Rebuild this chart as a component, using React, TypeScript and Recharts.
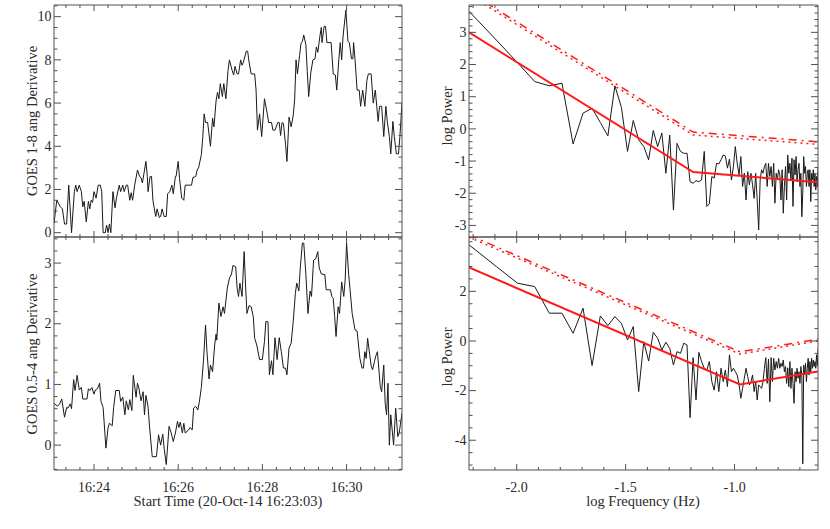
import { LineChart, Line, XAxis, YAxis, Label } from "recharts"

const FONT = '"Liberation Serif", "Times New Roman", serif'
const INK = "#2a2a2a"
const FRAME = "#505050"
const RED = "#ff1a1a"

// GOES 1-8 A derivative (seconds after 16:23:03)
const hiTime = [
  0, 4, 9, 12, 15, 18, 21, 25, 29, 31, 33, 36, 39, 41, 43, 46, 49, 51, 53, 55,
  57, 60, 63, 66, 68, 70, 73, 75, 77, 79, 81, 84, 87, 89, 93, 95, 98, 100, 103, 105,
  108, 110, 112, 115, 119, 122, 124, 126, 131, 133, 134, 137, 139, 141, 143, 145, 147, 150, 152, 154,
  157, 160, 162, 165, 168, 170, 173, 174, 177, 179, 182, 185, 187, 192, 196, 198, 202, 204, 206, 210,
  212, 214, 216, 219, 223, 226, 228, 231, 233, 235, 237, 240, 242, 245, 248, 250,
  254, 256, 258, 261, 263, 266, 268, 270, 274, 276, 278, 281, 286, 288, 290, 293, 296, 300, 304, 306,
  310, 312, 315, 319, 321, 323, 325, 327, 330, 332, 335, 338, 341, 343, 345, 347, 350, 352, 354, 356,
  359, 361, 363, 366, 369, 372, 374, 376, 379, 381, 382, 385, 387, 389, 395, 398, 401, 403, 406, 408,
  410, 412, 416, 419, 421, 424, 426, 427, 429, 432, 435, 437, 440, 443, 446, 448, 452, 455, 458, 460,
  462, 464, 467, 470, 473, 475, 478, 480, 483, 485, 488, 491, 493, 496,
]
const hiValue = [
  0.43, 1.51, 1.2, 1.1, 0.4, 0.4, 2.2, 0.0, 1.9, 2.2, 1.9, 2.2, 1.9, 1.2, 1.45, 0.5, 1.45, 1.1, 1.5, 1.4,
  1.9, 1.6, 2.2, 2.2, 1.9, 0.0, 0.0, 0.35, 0.0, 0.4, 0.0, 1.9, 1.15, 1.6, 2.2, 1.9, 2.2, 1.9, 2.2, 2.2,
  1.5, 1.85, 1.5, 2.2, 2.9, 2.6, 2.55, 2.3, 3.3, 2.6, 1.9, 2.6, 2.6, 1.5, 1.1, 0.75, 1.1, 0.7, 0.75, 1.1,
  0.75, 0.75, 1.8, 1.9, 2.2, 1.8, 2.6, 2.6, 3.3, 2.5, 1.6, 1.5, 2.2, 2.2, 2.2, 2.55, 2.6, 2.9, 3.0, 3.6,
  4.4, 5.5, 5.1, 5.1, 4.0, 5.3, 4.9, 6.1, 6.5, 6.2, 6.9, 6.3, 6.9, 6.2, 7.5, 8.0,
  7.5, 7.3, 7.7, 7.35, 7.35, 8.0, 7.75, 7.9, 8.4, 8.4, 7.9, 7.35, 7.35, 6.6, 4.75, 5.5, 4.45, 6.2, 5.5, 5.1,
  5.1, 4.75, 4.75, 5.1, 5.1, 4.5, 5.1, 5.05, 4.1, 3.3, 5.35, 4.9, 5.45, 6.15, 8.0, 7.35, 8.2, 8.75, 8.85, 9.15,
  8.7, 7.45, 6.3, 7.4, 8.0, 8.05, 8.6, 8.35, 9.1, 9.5, 8.8, 9.55, 9.55, 8.8, 8.8, 7.35, 7.3, 6.6, 8.05, 8.8,
  8.0, 9.1, 10.3, 8.85, 8.8, 8.05, 8.05, 8.8, 8.05, 6.6, 6.6, 5.85, 6.6, 5.85, 7.05, 7.35, 7.35, 6.0, 6.6, 5.85,
  5.15, 5.85, 5.85, 4.45, 5.85, 5.15, 4.45, 3.65, 5.15, 4.45, 3.65, 3.65, 4.45, 6.0,
]

// GOES 0.5-4 A derivative
const loTime = [
  0, 5, 8, 11, 15, 18, 20, 23, 25, 28, 30, 33, 36, 39, 41, 47, 49, 51, 54, 57,
  59, 62, 65, 67, 70, 74, 77, 79, 83, 85, 88, 93, 95, 98, 101, 103, 106, 108, 111, 113,
  117, 119, 121, 124, 127, 129, 131, 134, 136, 140, 146, 149, 152, 155, 157, 160, 164, 167, 170, 173,
  176, 178, 180, 183, 185, 187, 191, 194, 197, 199, 202, 205, 207, 210, 213, 216, 218, 221, 223, 226,
  229, 231, 232, 235, 238, 241, 243, 247, 250,
  253, 255, 259, 261, 263, 265, 268, 271, 273, 275, 278, 281, 284, 286, 289, 293, 297, 300, 302, 305,
  307, 310, 312, 315, 318, 321, 324, 327, 330, 332, 335, 338, 341, 344, 346, 349, 351, 354, 356, 359,
  362, 365, 367, 370, 373, 376, 378, 381, 386, 388, 394, 396, 398, 400, 402, 405, 407, 410, 413, 415,
  417, 420, 422, 425, 429, 432, 434, 436, 439, 441, 443, 445, 447, 450, 452, 454, 457, 459, 461, 465,
  467, 470, 472, 474, 476, 478, 480, 484, 487, 490, 492, 496,
]
const loValue = [
  0.69, 0.64, 0.68, 0.76, 0.46, 0.62, 0.61, 0.68, 0.6, 1.08, 0.9, 1.15, 0.91, 0.95, 0.76, 0.76, 0.93, 0.9, 0.95, 0.84,
  0.91, 0.93, 1.02, 0.72, 0.62, -0.05, 0.28, 0.36, 0.32, 0.62, 0.9, 0.9, 0.72, 0.79, 0.5, 0.73, 0.58, 0.75, 0.57, 1.15,
  0.79, 1.02, 0.94, 0.73, 0.88, 0.5, 0.82, 0.64, 0.33, -0.19, -0.19, 0.17, 0.0, 0.18, -0.05, -0.32, 0.31, 0.2, 0.06, 0.2,
  0.39, 0.29, 0.38, 0.2, 0.36, 0.2, 0.24, 0.29, 0.25, 0.61, 0.64, 0.58, 0.7, 0.95, 1.38, 1.98, 1.54, 1.09, 1.32, 1.21,
  1.65, 1.83, 1.73, 2.34, 2.12, 2.28, 2.17, 2.59, 2.75,
  2.82, 2.96, 2.94, 2.59, 2.45, 2.67, 2.45, 3.19, 2.64, 2.17, 2.3, 2.28, 2.12, 1.76, 1.65, 1.41, 1.41, 1.71, 2.04, 2.03,
  1.16, 1.39, 1.16, 1.77, 1.41, 1.77, 1.54, 1.27, 1.27, 1.16, 1.6, 1.68, 2.04, 2.5, 2.67, 2.54, 2.92, 3.33, 3.33, 2.81,
  2.17, 2.54, 2.45, 3.05, 3.07, 3.19, 2.92, 2.82, 2.81, 2.56, 2.56, 2.45, 2.42, 2.12, 1.79, 2.28, 2.17, 2.69, 2.45, 2.72,
  3.33, 2.81, 2.56, 2.17, 1.9, 1.88, 1.65, 1.43, 1.27, 1.27, 1.54, 1.43, 1.76, 1.49, 1.31, 1.24, 1.39, 1.48, 1.54, 0.97,
  0.88, 1.32, 0.69, 0.5, 1.02, 0.0, 0.5, 0.0, 0.61, 0.14, 0.2, 0.53,
]

// FFT bins k / 496 s, k = 3 .. 120
const firstBin = 3
const segmentSeconds = 496
const powerHi = [
  3.65, 2.76, 2.06, 1.47, 1.34, 1.42, -0.47, 0.49, 0.64, 0.2, -0.22, 1.34, 0.67, -0.7, 0.26, -0.34, -0.55, -0.96, -0.05, -0.55,
  -0.13, -1.38, -0.19, -2.52, -0.45, -0.7, -0.76, -0.76, -1.64, -1.69, -1.61, -1.64, -1.59, -0.7, -2.41, -2.33, -1.48, -1.53, -1.07, -1.09,
  -0.96, -0.81, -0.84, -1.22, -0.94, -1.59, -1.17, -0.55, -1.07, -1.43, -0.86, -1.79, -1.38, -2.21, -1.33, -1.74, -1.38, -1.74, -2.16, -1.38,
  -2.21, -3.14, -1.59, -1.27, -1.38, -1.17, -1.07, -1.79, -1.07, -1.48, -1.17, -1.79, -1.07, -2.31, -1.38, -1.59, -1.27, -1.43, -2.21, -1.27,
  -2.62, -1.79, -1.17, -2.21, -0.81, -1.38, -1.07, -1.59, -0.91, -2.41, -0.96, -1.43, -0.86, -1.64, -1.27, -1.07, -1.79, -1.38, -2.73, -1.99,
  -0.86, -1.38, -1.17, -1.79, -1.38, -1.27, -1.79, -1.27, -2.26, -1.38, -1.59, -1.27, -1.79, -1.38, -1.9, -1.48, -1.79, -1.17,
]
const powerLo = [
  3.87, 3.0, 2.33, 2.19, 1.12, 1.12, 0.31, 1.32, -0.99, 1.01, 0.62, 0.98, 0.71, 0.04, 0.58, -2.04, -0.03, -0.81, 0.35, 0.11,
  -0.36, -0.05, -0.3, -0.97, -0.43, -0.5, -0.09, -0.16, -3.09, -0.67, -2.38, -0.46, -0.83, -1.1, -1.17, -0.83, -1.64, -1.98, -1.24, -2.04,
  -1.1, -1.64, -1.17, -1.84, -0.56, -1.24, -1.1, -1.24, -1.37, -1.75, -2.31, -1.91, -1.5, -1.1, -1.44, -1.77, -1.64, -1.37, -2.04, -1.64,
  -2.38, -1.77, -1.84, -1.91, -1.64, -1.1, -0.67, -1.71, -0.73, -2.45, -0.67, -1.64, -0.7, -1.17, -0.83, -1.1, -0.7, -1.1, -0.9, -1.03,
  -0.77, -1.24, -1.03, -1.71, -1.08, -1.84, -0.83, -1.91, -1.1, -1.71, -2.51, -1.24, -1.64, -1.1, -1.5, -1.24, -1.71, -1.03, -1.37, -4.95,
  -0.97, -1.37, -0.9, -1.64, -1.1, -0.7, -1.37, -0.83, -1.24, -0.7, -1.1, -0.77, -1.03, -0.83, -1.1, -0.56, -0.97, -0.3,
]

// broken power-law fits and the two confidence curves above them
const fitHiFreq = [-2.219, -1.19, -0.617]
const fitHiModel = [3.0, -1.34, -1.66]
const fitHiConfA = [4.25, -0.1, -0.4]
const fitHiConfB = [4.17, -0.19, -0.48]
const fitLoFreq = [-2.219, -0.975, -0.617]
const fitLoModel = [2.96, -1.75, -1.23]
const fitLoConfA = [4.27, -0.44, 0.07]
const fitLoConfB = [4.18, -0.53, 0.0]

const timeMajor = [57, 177, 297, 417]
const timeLabels = ["16:24", "16:26", "16:28", "16:30"]

const range = (a: number, b: number, s: number) => {
  const out: number[] = []
  for (let v = a; v <= b + 1e-9; v += s) out.push(Math.round(v * 1000) / 1000)
  return out
}
const zip = (xs: number[], ys: number[]) => xs.map((x, i) => ({ x, y: ys[i] }))
const spectrum = (p: number[]) =>
  p.map((y, i) => ({ x: Math.log10((firstBin + i) / segmentSeconds), y }))

type Side = "left" | "right" | "top" | "bottom"

function axisTick(side: Side, majors: number[], majorLen: number, minorLen: number, fmt?: (v: number) => string) {
  return (props: any) => {
    const { x, y, payload } = props
    const v = payload.value
    const major = majors.some((m) => Math.abs(m - v) < 1e-6)
    const len = major ? majorLen : minorLen
    let x2 = x
    let y2 = y
    if (side === "left") x2 = x + len
    if (side === "right") x2 = x - len
    if (side === "bottom") y2 = y - len
    if (side === "top") y2 = y + len
    return (
      <g>
        <line x1={x} y1={y} x2={x2} y2={y2} stroke={FRAME} strokeWidth={1} />
        {major && fmt && side === "left" && (
          <text x={x - 2.5} y={y + 4.7} textAnchor="end" fontFamily={FONT} fontSize={14} fill={INK}>
            {fmt(v)}
          </text>
        )}
        {major && fmt && side === "bottom" && (
          <text x={x} y={y + 21.5} textAnchor="middle" fontFamily={FONT} fontSize={14} fill={INK}>
            {fmt(v)}
          </text>
        )}
      </g>
    )
  }
}

type Series = { data: { x: number; y: number }[]; stroke: string; width: number; dash?: string }

interface PanelProps {
  left: number
  top: number
  height: number
  padTop: number
  padRight: number
  axisH: number
  xDomain: [number, number]
  yDomain: [number, number]
  xTicks: number[]
  xMajor: number[]
  xFmt?: (v: number) => string
  yTicks: number[]
  yMajor: number[]
  yFmt: (v: number) => string
  yTitle: string
  yTitleY: number
  xTitle?: string
  series: Series[]
}

function Panel(p: PanelProps) {
  // top / right axes take 1px each, so the outer margins shrink by 1
  return (
    <div style={{ position: "absolute", left: p.left, top: p.top }}>
      <LineChart
        width={415}
        height={p.height}
        margin={{ top: p.padTop - 1, right: p.padRight - 1, bottom: 0, left: 0 }}
      >
        <XAxis
          xAxisId="b"
          type="number"
          dataKey="x"
          domain={p.xDomain}
          allowDataOverflow
          ticks={p.xTicks}
          interval={0}
          height={p.axisH}
          tickSize={0}
          tickMargin={0}
          tickLine={false}
          axisLine={{ stroke: FRAME }}
          tick={axisTick("bottom", p.xMajor, 6, 3, p.xFmt)}
        >
          {p.xTitle && (
            <Label
              content={() => (
                <text x={228} y={p.height - p.axisH + 36} textAnchor="middle" fontFamily={FONT} fontSize={14.5} fill={INK}>
                  {p.xTitle}
                </text>
              )}
            />
          )}
        </XAxis>
        <XAxis
          xAxisId="t"
          orientation="top"
          type="number"
          dataKey="x"
          domain={p.xDomain}
          allowDataOverflow
          ticks={p.xTicks}
          interval={0}
          height={1}
          tickSize={0}
          tickMargin={0}
          tickLine={false}
          axisLine={{ stroke: FRAME }}
          tick={axisTick("top", p.xMajor, 6, 3)}
        />
        <YAxis
          yAxisId="l"
          type="number"
          domain={p.yDomain}
          allowDataOverflow
          ticks={p.yTicks}
          interval={0}
          width={54}
          tickSize={0}
          tickMargin={0}
          tickLine={false}
          axisLine={{ stroke: FRAME }}
          tick={axisTick("left", p.yMajor, 7, 3.5, p.yFmt)}
        >
          <Label
            content={() => (
              <text
                x={37}
                y={p.yTitleY}
                transform={`rotate(-90 37 ${p.yTitleY})`}
                textAnchor="middle"
                fontFamily={FONT}
                fontSize={14.5}
                fill={INK}
              >
                {p.yTitle}
              </text>
            )}
          />
        </YAxis>
        <YAxis
          yAxisId="r"
          orientation="right"
          type="number"
          domain={p.yDomain}
          allowDataOverflow
          ticks={p.yTicks}
          interval={0}
          width={1}
          tickSize={0}
          tickMargin={0}
          tickLine={false}
          axisLine={{ stroke: FRAME }}
          tick={axisTick("right", p.yMajor, 7, 3.5)}
        />
        {/* invisible copy so the mirrored top/right axes get drawn */}
        <Line
          xAxisId="t"
          yAxisId="r"
          type="linear"
          data={p.series[0].data}
          dataKey="y"
          stroke="none"
          dot={false}
          activeDot={false}
          isAnimationActive={false}
        />
        {p.series.map((s, i) => (
          <Line
            key={i}
            xAxisId="b"
            yAxisId="l"
            type="linear"
            data={s.data}
            dataKey="y"
            stroke={s.stroke}
            strokeWidth={s.width}
            strokeDasharray={s.dash}
            dot={false}
            activeDot={false}
            isAnimationActive={false}
          />
        ))}
      </LineChart>
    </div>
  )
}

const timeFmt = (v: number) => timeLabels[timeMajor.indexOf(v)] ?? ""
const intFmt = (v: number) => String(Math.round(v))
const freqFmt = (v: number) => v.toFixed(1)

export default function App() {
  const timeTicks = range(17, 477, 20)
  const freqTicks = range(-2.2, -0.7, 0.1)
  const freqMajor = [-2, -1.5, -1]
  return (
    <div style={{ position: "absolute", left: 0, top: 0, width: 830, height: 529, background: "#fff" }}>
      <Panel
        left={0}
        top={0}
        height={240}
        padTop={5}
        padRight={13}
        axisH={3}
        xDomain={[0, 496]}
        yDomain={[-0.2, 10.54]}
        xTicks={timeTicks}
        xMajor={timeMajor}
        yTicks={range(0, 10.5, 0.5)}
        yMajor={[0, 2, 4, 6, 8, 10]}
        yFmt={intFmt}
        yTitle="GOES 1-8 ang Derivative"
        yTitleY={121}
        series={[{ data: zip(hiTime, hiValue), stroke: "#1a1a1a", width: 1 }]}
      />
      <Panel
        left={0}
        top={230}
        height={299}
        padTop={7}
        padRight={13}
        axisH={59}
        xDomain={[0, 496]}
        yDomain={[-0.41, 3.43]}
        xTicks={timeTicks}
        xMajor={timeMajor}
        xFmt={timeFmt}
        yTicks={range(-0.4, 3.4, 0.2)}
        yMajor={[0, 1, 2, 3]}
        yFmt={intFmt}
        yTitle="GOES 0.5-4 ang Derivative"
        yTitleY={124}
        xTitle="Start Time (20-Oct-14 16:23:03)"
        series={[{ data: zip(loTime, loValue), stroke: "#1a1a1a", width: 1 }]}
      />
      <Panel
        left={415}
        top={0}
        height={240}
        padTop={5}
        padRight={12}
        axisH={3}
        xDomain={[-2.219, -0.617]}
        yDomain={[-3.36, 3.85]}
        xTicks={freqTicks}
        xMajor={freqMajor}
        yTicks={range(-3.2, 3.8, 0.2)}
        yMajor={[-3, -2, -1, 0, 1, 2, 3]}
        yFmt={intFmt}
        yTitle="log Power"
        yTitleY={116}
        series={[
          { data: spectrum(powerHi), stroke: "#1a1a1a", width: 1 },
          { data: zip(fitHiFreq, fitHiModel), stroke: RED, width: 2 },
          { data: zip(fitHiFreq, fitHiConfA), stroke: RED, width: 1.5, dash: "8 5 2 5" },
          { data: zip(fitHiFreq, fitHiConfB), stroke: RED, width: 1.5, dash: "2 4" },
        ]}
      />
      <Panel
        left={415}
        top={230}
        height={299}
        padTop={7}
        padRight={12}
        axisH={59}
        xDomain={[-2.219, -0.617]}
        yDomain={[-5.2, 4.19]}
        xTicks={freqTicks}
        xMajor={freqMajor}
        xFmt={freqFmt}
        yTicks={range(-5, 4, 0.5)}
        yMajor={[-4, -2, 0, 2]}
        yFmt={intFmt}
        yTitle="log Power"
        yTitleY={127}
        xTitle="log Frequency (Hz)"
        series={[
          { data: spectrum(powerLo), stroke: "#1a1a1a", width: 1 },
          { data: zip(fitLoFreq, fitLoModel), stroke: RED, width: 2 },
          { data: zip(fitLoFreq, fitLoConfA), stroke: RED, width: 1.5, dash: "8 5 2 5" },
          { data: zip(fitLoFreq, fitLoConfB), stroke: RED, width: 1.5, dash: "2 4" },
        ]}
      />
    </div>
  )
}
